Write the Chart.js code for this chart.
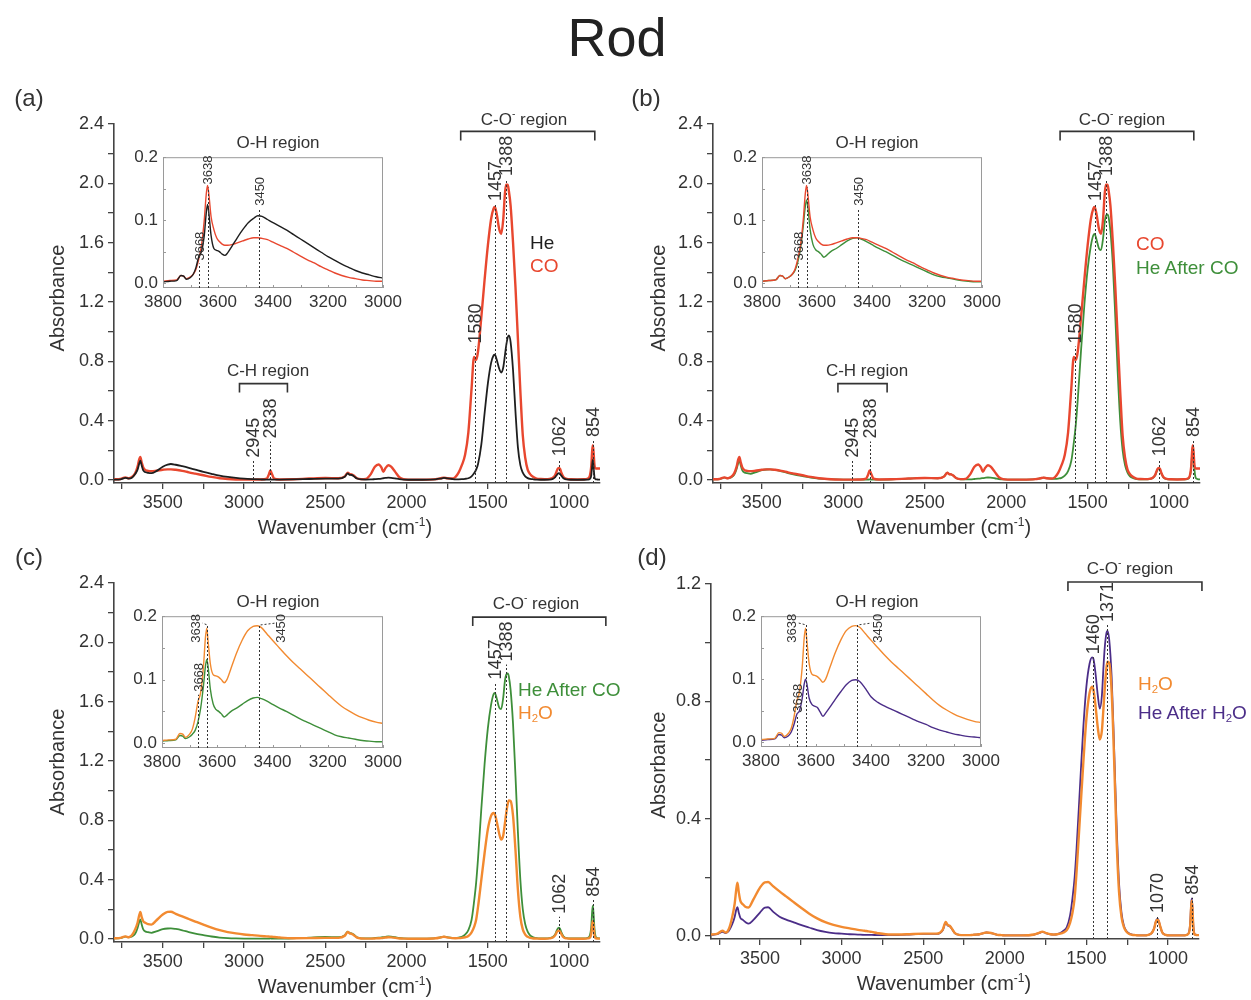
<!DOCTYPE html>
<html>
<head>
<meta charset="utf-8">
<script src="https://cdn.jsdelivr.net/npm/chart.js@4.4.0/dist/chart.umd.min.js"></script>
<style>
body{margin:0;background:#fff}
#page{position:relative;width:1251px;height:1000px;overflow:hidden;font-family:'Liberation Sans',Arial,sans-serif;color:#333}
.t{position:absolute;white-space:nowrap;line-height:1}
sup{font-size:0.6em;vertical-align:0.7em;line-height:0}
sub{font-size:0.6em;vertical-align:-0.35em;line-height:0}
</style>
</head>
<body>
<div id="page"></div>
<script>
const FONT = "'Liberation Sans', Arial, sans-serif";

// main spectra, wavenumber grid (cm-1)
const mainWn = [
  3800,3760,3730,3710,3690,3670,3655,3645,3638,3630,
  3620,3605,3590,3570,3540,3500,3470,3450,3420,3380,
  3340,3300,3250,3200,3150,3100,3050,3000,2950,2900,
  2860,2848,2838,2828,2815,2780,2700,2600,2500,2420,
  2380,2362,2350,2338,2325,2305,2280,2250,2220,2195,
  2172,2155,2143,2130,2112,2095,2070,2045,2020,1990,
  1900,1820,1790,1770,1750,1720,1700,1680,1660,1640,
  1620,1600,1585,1572,1560,1540,1520,1500,1480,1465,
  1457,1445,1430,1418,1405,1395,1388,1378,1371,1360,
  1345,1330,1315,1300,1285,1270,1255,1240,1220,1200,
  1175,1150,1120,1100,1085,1075,1066,1062,1056,1048,
  1035,1015,990,950,910,885,872,864,858,854,
  849,844,838,830,820,810
];
const heMain = [
  .003,.005,.015,.01,.015,.04,.07,.11,.13,.1,
  .065,.052,.048,.046,.06,.09,.104,.108,.103,.093,
  .082,.07,.055,.042,.03,.021,.014,.009,.006,.004,
  .003,.003,.004,.003,.003,.003,.004,.007,.01,.01,
  .022,.045,.035,.034,.026,.01,.004,.003,.004,.006,
  .008,.01,.012,.014,.016,.015,.011,.006,.003,.002,
  .002,.005,.01,.014,.011,.007,.005,.005,.006,.008,
  .012,.025,.045,.07,.11,.24,.45,.65,.79,.84,
  .845,.81,.75,.725,.76,.84,.9,.96,.975,.93,
  .74,.46,.22,.1,.05,.025,.013,.008,.005,.003,
  .002,.002,.003,.008,.02,.035,.045,.046,.042,.03,
  .012,.004,.002,.002,.002,.003,.008,.03,.1,.135,
  .08,.02,.006,.004,.003,.003
];
const coMain = [
  .005,.007,.018,.012,.02,.045,.09,.14,.155,.12,
  .085,.066,.062,.06,.063,.069,.072,.072,.069,.062,
  .052,.043,.032,.021,.012,.007,.004,.003,.003,.004,
  .01,.035,.065,.04,.01,.004,.005,.01,.014,.012,
  .025,.05,.04,.038,.03,.012,.006,.008,.04,.09,
  .105,.085,.055,.08,.1,.09,.055,.02,.006,.003,
  .003,.006,.012,.016,.012,.01,.02,.05,.1,.17,
  .32,.62,.83,.81,.87,1.1,1.35,1.58,1.76,1.83,
  1.84,1.79,1.69,1.66,1.76,1.93,1.99,1.99,1.95,1.85,
  1.6,1.3,.95,.6,.3,.15,.07,.04,.02,.01,
  .007,.006,.008,.015,.035,.065,.08,.082,.075,.05,
  .02,.008,.005,.004,.005,.01,.03,.09,.2,.235,
  .18,.1,.08,.078,.078,.078
];
const heAfterCoMain = [
  .004,.006,.016,.012,.018,.035,.075,.115,.132,.1,
  .065,.05,.046,.042,.052,.066,.071,.072,.068,.059,
  .047,.037,.027,.017,.01,.006,.004,.003,.003,.003,
  .003,.003,.004,.003,.003,.003,.005,.01,.014,.012,
  .026,.05,.04,.038,.03,.012,.005,.004,.005,.007,
  .009,.011,.013,.015,.017,.016,.012,.007,.004,.003,
  .003,.006,.012,.016,.012,.008,.008,.01,.015,.03,
  .06,.13,.25,.38,.55,.88,1.18,1.42,1.58,1.65,
  1.66,1.62,1.56,1.55,1.63,1.74,1.78,1.79,1.77,1.68,
  1.45,1.1,.72,.4,.2,.1,.05,.025,.012,.006,
  .004,.004,.006,.014,.032,.06,.075,.077,.07,.046,
  .018,.006,.004,.004,.004,.008,.025,.08,.19,.225,
  .16,.07,.02,.008,.005,.004
];
const h2oMain = [
  .005,.008,.018,.012,.025,.065,.11,.16,.182,.15,
  .12,.108,.1,.097,.125,.165,.183,.184,.17,.152,
  .135,.118,.097,.077,.06,.047,.038,.031,.026,.021,
  .018,.017,.016,.015,.014,.01,.005,.006,.008,.008,
  .022,.048,.038,.035,.026,.01,.004,.003,.003,.004,
  .005,.006,.008,.01,.012,.011,.008,.004,.003,.002,
  .002,.005,.011,.015,.011,.006,.005,.006,.008,.012,
  .02,.045,.08,.13,.22,.4,.58,.74,.83,.85,
  .84,.79,.71,.67,.7,.78,.84,.91,.935,.93,
  .83,.6,.33,.15,.065,.03,.015,.008,.004,.003,
  .002,.002,.004,.01,.026,.048,.056,.056,.05,.034,
  .012,.004,.002,.002,.002,.004,.01,.035,.1,.12,
  .08,.025,.006,.004,.003,.003
];
const heAfterH2oMain = [
  .004,.006,.014,.01,.018,.04,.065,.09,.098,.08,
  .062,.055,.048,.042,.055,.08,.097,.098,.083,.066,
  .056,.048,.038,.029,.02,.014,.01,.008,.006,.005,
  .004,.004,.004,.004,.004,.003,.003,.005,.007,.007,
  .02,.045,.036,.034,.025,.009,.004,.003,.003,.004,
  .005,.006,.008,.01,.012,.011,.008,.004,.003,.002,
  .002,.005,.01,.014,.01,.006,.005,.006,.01,.018,
  .03,.07,.13,.2,.3,.5,.7,.85,.93,.95,
  .945,.9,.82,.775,.82,.92,.98,1.03,1.04,1.01,
  .88,.64,.38,.18,.08,.035,.017,.009,.005,.003,
  .002,.002,.004,.01,.026,.048,.058,.058,.05,.033,
  .012,.004,.002,.002,.002,.004,.012,.045,.11,.128,
  .085,.03,.008,.004,.003,.003
];

// O-H region insets
const insetWn = [
  3800,3775,3750,3735,3725,3715,3700,3690,3680,3670,
  3660,3650,3643,3638,3633,3625,3615,3605,3595,3585,
  3575,3565,3550,3530,3510,3490,3470,3455,3440,3420,
  3400,3375,3350,3325,3300,3275,3250,3225,3200,3175,
  3150,3125,3100,3075,3050,3025,3000
];
const heIn = [
  .002,.003,.004,.012,.011,.006,.009,.014,.025,.042,
  .05,.075,.11,.125,.11,.075,.055,.052,.05,.046,
  .044,.048,.058,.072,.085,.096,.103,.107,.106,.101,
  .096,.09,.084,.077,.07,.063,.056,.049,.042,.036,
  .03,.025,.02,.016,.013,.01,.008
];
const coIn = [
  .003,.004,.005,.012,.011,.007,.01,.014,.022,.038,
  .06,.1,.14,.155,.14,.105,.085,.072,.066,.062,
  .06,.06,.061,.064,.067,.07,.072,.072,.071,.069,
  .065,.06,.055,.049,.043,.037,.032,.026,.021,.016,
  .012,.009,.007,.005,.004,.003,.003
];
const heAfterCoIn = [
  .003,.004,.005,.012,.011,.007,.01,.014,.02,.033,
  .055,.09,.12,.132,.12,.085,.062,.053,.05,.046,
  .041,.044,.05,.055,.061,.067,.071,.072,.07,.066,
  .061,.055,.05,.044,.038,.033,.028,.023,.018,.013,
  .01,.008,.006,.004,.003,.002,.002
];
const h2oIn = [
  .004,.005,.006,.015,.014,.009,.014,.022,.04,.065,
  .08,.12,.165,.181,.16,.125,.108,.106,.104,.1,
  .095,.1,.118,.142,.162,.177,.184,.185,.182,.172,
  .162,.15,.138,.127,.117,.107,.097,.087,.077,.067,
  .058,.051,.045,.04,.036,.033,.031
];
const heAfterH2oIn = [
  .003,.004,.005,.012,.011,.007,.01,.016,.028,.044,
  .05,.07,.092,.1,.092,.07,.06,.057,.055,.048,
  .041,.046,.055,.068,.08,.091,.098,.099,.096,.085,
  .072,.063,.057,.052,.047,.042,.037,.032,.028,.023,
  .019,.016,.013,.011,.009,.008,.007
];

// tick values
const xMainTicks = [1000,1250,1500,1750,2000,2250,2500,2750,3000,3250,3500,3750];
const yTicks24 = [0,0.2,0.4,0.6,0.8,1.0,1.2,1.4,1.6,1.8,2.0,2.2,2.4];
const yTicks12 = [0,0.2,0.4,0.6,0.8,1.0,1.2];
const xInsetTicks = [3000,3100,3200,3300,3400,3500,3600,3700,3800];
const yInsetTicks = [0,0.05,0.1,0.15,0.2];

const BLACK = '#1e1e1e', RED = '#e8472f', GREEN = '#3e8f3a', ORANGE = '#f28a30', PURPLE = '#4b2d88';
const AXIS = '#444', TXT = '#333';

const page = document.getElementById('page');

function canvasAt(area, L, T, R, B) {
  const c = document.createElement('canvas');
  const w = area.r - area.l + L + R, h = area.b - area.t + T + B;
  c.width = w; c.height = h;
  c.style.cssText = `position:absolute;left:${area.l - L}px;top:${area.t - T}px;width:${w}px;height:${h}px`;
  page.appendChild(c);
  return c;
}

function lineSets(xs, sets, lw) {
  return sets.map(s => ({
    data: xs.map((w, i) => ({x: w, y: s.vals[i]})),
    borderColor: s.color, borderWidth: s.w || lw,
    pointRadius: 0, fill: false, cubicInterpolationMode: 'monotone'
  }));
}

function annoPlugin(peaks, brackets, fontPx, frame) {
  return {
    id: 'anno',
    afterDatasetsDraw(chart) {
      const {ctx, chartArea: ca} = chart;
      const x = chart.scales.x, y = chart.scales.y;
      ctx.save();
      if (frame) {
        ctx.strokeStyle = '#9a9a9a'; ctx.lineWidth = 1;
        ctx.strokeRect(ca.left + 0.5, ca.top + 0.5, ca.right - ca.left - 1, ca.bottom - ca.top - 1);
        ctx.beginPath();
        xInsetTicks.forEach(v => { const p = Math.round(x.getPixelForValue(v)) + 0.5; ctx.moveTo(p, ca.bottom); ctx.lineTo(p, ca.bottom - 3); });
        yInsetTicks.forEach(v => { const p = Math.round(y.getPixelForValue(v)) + 0.5; ctx.moveTo(ca.left, p); ctx.lineTo(ca.left + 3, p); });
        ctx.stroke();
      }
      ctx.strokeStyle = '#333'; ctx.lineWidth = 1; ctx.setLineDash([2, 2]);
      peaks.forEach(p => {
        const px = Math.round(x.getPixelForValue(p.wn)) + 0.5, py = y.getPixelForValue(p.top);
        ctx.beginPath(); ctx.moveTo(px, ca.bottom); ctx.lineTo(px, py);
        if (p.dx) ctx.lineTo(px + p.dx - Math.sign(p.dx) * 6, py - 2);
        ctx.stroke();
      });
      ctx.setLineDash([]);
      ctx.fillStyle = TXT; ctx.font = `${fontPx}px ${FONT}`;
      ctx.textAlign = 'left'; ctx.textBaseline = 'middle';
      peaks.forEach(p => {
        const px = x.getPixelForValue(p.wn) + (p.dx || 0);
        const py = p.tb !== undefined ? y.getPixelForValue(p.tb) : y.getPixelForValue(p.top) - 3;
        ctx.save(); ctx.translate(px, py); ctx.rotate(-Math.PI / 2);
        ctx.fillText(String(p.wn), 0, 1); ctx.restore();
      });
      ctx.strokeStyle = '#333'; ctx.lineWidth = 1.6;
      brackets.forEach(b => {
        const x1 = x.getPixelForValue(b.from), x2 = x.getPixelForValue(b.to), py = y.getPixelForValue(b.y);
        ctx.beginPath(); ctx.moveTo(x1, py + 9); ctx.lineTo(x1, py); ctx.lineTo(x2, py); ctx.lineTo(x2, py + 9); ctx.stroke();
      });
      ctx.restore();
    }
  };
}

function mainChart(area, yMin, yMax, yTicks, sets, peaks, brackets) {
  const c = canvasAt(area, 74, 40, 14, 34);
  new Chart(c, {
    type: 'line',
    data: {datasets: lineSets(mainWn, sets, 2)},
    options: {
      responsive: false, animation: false, devicePixelRatio: 1,
      layout: {padding: {top: 40, right: 14, left: 0, bottom: 0}},
      plugins: {legend: {display: false}, tooltip: {enabled: false}},
      scales: {
        x: {
          type: 'linear', reverse: true, min: 810, max: 3800,
          afterBuildTicks: s => { s.ticks = xMainTicks.map(v => ({value: v})); },
          afterFit: s => { s.height = 34; },
          ticks: {autoSkip: false, maxRotation: 0, padding: 3, color: TXT, font: {family: FONT, size: 18},
                  callback: v => v % 500 === 0 ? String(v) : ''},
          grid: {drawOnChartArea: false, tickLength: 6, color: AXIS, lineWidth: 1.3},
          border: {color: AXIS, width: 1.6}
        },
        y: {
          min: yMin, max: yMax,
          afterBuildTicks: s => { s.ticks = yTicks.map(v => ({value: v})); },
          afterFit: s => { s.width = 74; },
          ticks: {autoSkip: false, padding: 4, color: TXT, font: {family: FONT, size: 18},
                  callback: v => Math.round(v * 10) % 4 === 0 ? v.toFixed(1) : ''},
          grid: {drawOnChartArea: false, tickLength: 6, color: AXIS, lineWidth: 1.3},
          border: {color: AXIS, width: 1.6}
        }
      }
    },
    plugins: [annoPlugin(peaks, brackets, 18, false)]
  });
}

function insetChart(area, sets, peaks) {
  const L = 50, T = 12, R = 26, B = 32, XH = 26;
  const c = canvasAt(area, L, T, R, B);
  new Chart(c, {
    type: 'line',
    data: {datasets: lineSets(insetWn, sets, 1.4)},
    options: {
      responsive: false, animation: false, devicePixelRatio: 1,
      layout: {padding: {top: T, right: R, left: 0, bottom: B - XH}},
      plugins: {legend: {display: false}, tooltip: {enabled: false}},
      scales: {
        x: {
          type: 'linear', reverse: true, min: 3000, max: 3800,
          afterBuildTicks: s => { s.ticks = xInsetTicks.map(v => ({value: v})); },
          afterFit: s => { s.height = XH; },
          ticks: {autoSkip: false, maxRotation: 0, padding: 4, color: TXT, font: {family: FONT, size: 17},
                  callback: v => v % 200 === 0 ? String(v) : ''},
          grid: {display: false, drawTicks: false}, border: {display: false}
        },
        y: {
          min: -0.0078, max: 0.2,
          afterBuildTicks: s => { s.ticks = yInsetTicks.map(v => ({value: v})); },
          afterFit: s => { s.width = L; },
          ticks: {autoSkip: false, padding: 5, color: TXT, font: {family: FONT, size: 17},
                  callback: v => Math.round(v * 100) % 10 === 0 ? v.toFixed(1) : ''},
          grid: {display: false, drawTicks: false}, border: {display: false}
        }
      }
    },
    plugins: [annoPlugin(peaks, [], 13, true)]
  });
}

// panels
const peaksAB = [
  {wn: 2945, top: 0.13}, {wn: 2838, top: 0.26}, {wn: 1580, top: 0.9}, {wn: 1457, top: 1.86},
  {wn: 1388, top: 2.03}, {wn: 1062, top: 0.14}, {wn: 854, top: 0.27}
];
const bracketsA = [{from: 1667, to: 842, y: 2.35}, {from: 3028, to: 2733, y: 0.65}];
const bracketsB = [{from: 1669, to: 848, y: 2.35}, {from: 3033, to: 2731, y: 0.65}];

mainChart({l: 114, t: 124, r: 600, b: 483}, -0.02, 2.4, yTicks24,
  [{vals: heMain, color: BLACK, w: 1.8}, {vals: coMain, color: RED, w: 2.4}], peaksAB, bracketsA);
mainChart({l: 713, t: 124, r: 1200, b: 483}, -0.02, 2.4, yTicks24,
  [{vals: coMain, color: RED, w: 2.4}, {vals: heAfterCoMain, color: GREEN, w: 1.8}], peaksAB, bracketsB);
mainChart({l: 114, t: 583, r: 600, b: 942}, -0.02, 2.4, yTicks24,
  [{vals: h2oMain, color: ORANGE, w: 2.4}, {vals: heAfterCoMain, color: GREEN, w: 1.8}],
  [{wn: 1457, top: 1.73}, {wn: 1388, top: 1.85}, {wn: 1062, top: 0.15}, {wn: 854, top: 0.265}],
  [{from: 1593, to: 774, y: 2.17}]);
mainChart({l: 711, t: 584, r: 1199, b: 939}, -0.0102, 1.2, yTicks12,
  [{vals: h2oMain, color: ORANGE, w: 2.4}, {vals: heAfterH2oMain, color: PURPLE, w: 1.8}],
  [{wn: 1460, top: 0.95}, {wn: 1371, top: 1.06}, {wn: 1070, top: 0.068}, {wn: 854, top: 0.13}],
  [{from: 1613, to: 792, y: 1.207}]);

const inPeaksAB = [{wn: 3668, top: 0.031}, {wn: 3638, top: 0.152}, {wn: 3450, top: 0.118}];
insetChart({l: 163, t: 154, r: 383, b: 288},
  [{vals: heIn, color: BLACK}, {vals: coIn, color: RED}], inPeaksAB);
insetChart({l: 762, t: 154, r: 982, b: 288},
  [{vals: coIn, color: RED}, {vals: heAfterCoIn, color: GREEN}], inPeaksAB);
insetChart({l: 162, t: 613, r: 383, b: 748},
  [{vals: h2oIn, color: ORANGE}, {vals: heAfterCoIn, color: GREEN}],
  [{wn: 3668, top: 0.076}, {wn: 3638, top: 0.186, dx: -11, tb: 0.158}, {wn: 3450, top: 0.186, dx: 22, tb: 0.158}]);
insetChart({l: 761, t: 613, r: 981, b: 747},
  [{vals: h2oIn, color: ORANGE}, {vals: heAfterH2oIn, color: PURPLE}],
  [{wn: 3668, top: 0.042}, {wn: 3638, top: 0.186, dx: -14, tb: 0.158}, {wn: 3450, top: 0.186, dx: 20, tb: 0.158}]);

// text overlays
function txt(html, x, y, size, color, mode) {
  const d = document.createElement('div');
  d.className = 't';
  d.innerHTML = html;
  let tf = 'translate(-50%,-50%)';
  if (mode === 'left') tf = 'translate(0,-50%)';
  if (mode === 'rot') tf = 'translate(-50%,-50%) rotate(-90deg)';
  d.style.cssText = `left:${x}px;top:${y}px;font-size:${size}px;color:${color || TXT};transform:${tf}`;
  page.appendChild(d);
}
txt('Rod', 617, 37, 54, '#222');
txt('(a)', 29, 98, 24); txt('(b)', 646, 98, 24); txt('(c)', 29, 557, 24); txt('(d)', 652, 557, 24);
[[57, 298], [658, 298], [57, 762], [658, 765]].forEach(p => txt('Absorbance', p[0], p[1], 20, TXT, 'rot'));
[[345, 527], [944, 527], [345, 986], [944, 983]].forEach(p => txt('Wavenumber (cm<sup>-1</sup>)', p[0], p[1], 20));
txt('He', 530, 242, 19, BLACK, 'left'); txt('CO', 530, 265, 19, RED, 'left');
txt('CO', 1136, 243, 19, RED, 'left'); txt('He After CO', 1136, 267, 19, GREEN, 'left');
txt('He After CO', 518, 689, 19, GREEN, 'left'); txt('H<sub>2</sub>O', 518, 712, 19, ORANGE, 'left');
txt('H<sub>2</sub>O', 1138, 683, 19, ORANGE, 'left'); txt('He After H<sub>2</sub>O', 1138, 712, 19, PURPLE, 'left');
[[524, 119], [1122, 119], [536, 603], [1130, 568]].forEach(p => txt('C-O<sup>-</sup> region', p[0], p[1], 17));
[[268, 370], [867, 370]].forEach(p => txt('C-H region', p[0], p[1], 17));
[[278, 142], [877, 142], [278, 601], [877, 601]].forEach(p => txt('O-H region', p[0], p[1], 17));
</script>
</body>
</html>
